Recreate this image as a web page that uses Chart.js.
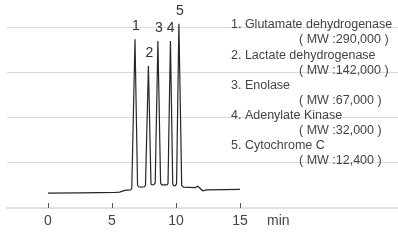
<!DOCTYPE html>
<html>
<head>
<meta charset="utf-8">
<script src="https://cdn.jsdelivr.net/npm/chart.js@4/dist/chart.umd.min.js"></script>
<style>
  html, body { margin: 0; padding: 0; background: #fff; }
  canvas { display: block; }
</style>
</head>
<body>
<canvas id="chart" width="398" height="252"></canvas>
<script>
// retention time (min) and detector signal (in grid units)
var times = [0, 2.5, 5.3, 5.6, 6.0, 6.45,
  6.55, 6.80, 7.0, 7.1, 7.25, 7.55,
  7.62, 7.85, 8.05, 8.15, 8.3,
  8.38, 8.59, 8.8, 8.9, 9.3,
  9.38, 9.57, 9.75, 9.85, 9.98,
  10.05, 10.23, 10.45, 10.6, 11.5,
  11.7, 12.1, 12.4, 15.0];
var signal = [0.33, 0.335, 0.345, 0.35, 0.39, 0.40,
  0.43, 3.73, 0.50, 0.47, 0.46, 0.47,
  0.50, 3.14, 0.53, 0.51, 0.52,
  0.55, 3.69, 0.55, 0.51, 0.51,
  0.54, 3.69, 0.53, 0.49, 0.50,
  0.55, 4.07, 0.50, 0.46, 0.45,
  0.48, 0.38, 0.40, 0.41];

var peakNums = ['1', '2', '3', '4', '5'];
var peakTimes = [6.80, 7.85, 8.59, 9.50, 10.23];
var peakTops = [3.73, 3.14, 3.69, 3.69, 4.07];

var xTicks = [0, 5, 10, 15];
var unitLabel = 'min';
var unitPos = 18;

var proteinNames = ['1. Glutamate dehydrogenase', '2. Lactate dehydrogenase', '3. Enolase',
  '4. Adenylate Kinase', '5. Cytochrome C'];
var mwLabels = ['( MW :290,000 )', '( MW :142,000 )', '( MW :67,000 )',
  '( MW :32,000 )', '( MW :12,400 )'];

var FONT = "'Liberation Sans', Arial, sans-serif";

var pts = times.map(function (t, i) { return { x: t, y: signal[i] }; });

var extras = {
  id: 'extras',
  afterDraw: function (chart) {
    var ctx = chart.ctx, xs = chart.scales.x, ys = chart.scales.y, area = chart.chartArea;
    ctx.save();
    // inner tick marks
    ctx.strokeStyle = '#555';
    ctx.lineWidth = 1;
    xTicks.forEach(function (v) {
      var px = Math.round(xs.getPixelForValue(v)) + 0.5;
      ctx.beginPath();
      ctx.moveTo(px, area.bottom - 5);
      ctx.lineTo(px, area.bottom);
      ctx.stroke();
    });
    // peak numbers
    ctx.fillStyle = '#333';
    ctx.font = '14px ' + FONT;
    ctx.textAlign = 'center';
    ctx.textBaseline = 'middle';
    peakNums.forEach(function (n, i) {
      ctx.fillText(n, xs.getPixelForValue(peakTimes[i]) + 1, ys.getPixelForValue(peakTops[i]) - 13);
    });
    // protein list
    ctx.fillStyle = '#444';
    ctx.font = '12.5px ' + FONT;
    ctx.textAlign = 'left';
    proteinNames.forEach(function (name, i) {
      var y0 = 25 + i * 30.2;
      ctx.fillText(name, 231, y0);
      ctx.fillText(mwLabels[i], 299, y0 + 15);
    });
    ctx.restore();
  }
};

new Chart(document.getElementById('chart'), {
  type: 'line',
  data: {
    datasets: [{
      data: pts,
      borderColor: '#262626',
      borderWidth: 1.2,
      pointRadius: 0,
      tension: 0,
      fill: false
    }]
  },
  options: {
    responsive: false,
    animation: false,
    layout: { padding: { top: 8, left: 0, right: 0, bottom: 0 } },
    plugins: { legend: { display: false }, tooltip: { enabled: false } },
    scales: {
      x: {
        type: 'linear',
        min: -3.2,
        max: 27.35,
        afterBuildTicks: function (s) {
          s.ticks = xTicks.concat([unitPos]).map(function (v) { return { value: v }; });
        },
        afterFit: function (s) { s.height = 44; },
        ticks: {
          autoSkip: false,
          maxRotation: 0,
          padding: -3,
          color: '#444',
          font: { size: 14, family: FONT },
          callback: function (v) { return v === unitPos ? unitLabel : v; }
        },
        grid: { display: false },
        border: { display: true, color: '#e0e0e0', width: 2 }
      },
      y: {
        min: 0,
        max: 4.42,
        afterFit: function (s) { s.width = 7; },
        ticks: { display: false, stepSize: 1, includeBounds: false },
        grid: {
          color: function (c) { return c.tick && c.tick.value === 0 ? 'rgba(0,0,0,0)' : '#dadada'; },
          lineWidth: 1,
          drawTicks: false
        },
        border: { display: false }
      }
    }
  },
  plugins: [extras]
});
</script>
</body>
</html>
